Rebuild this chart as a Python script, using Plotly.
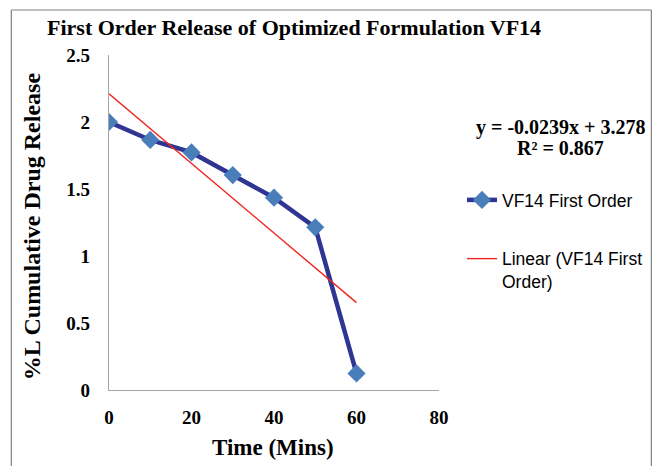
import numpy as np
import plotly.graph_objects as go

# data
time_min = [0, 10, 20, 30, 40, 50, 60]
log_release = [2.0, 1.866, 1.773, 1.604, 1.435, 1.214, 0.124]
x_ticks = [0, 20, 40, 60, 80]
y_ticks = [0, 0.5, 1, 1.5, 2, 2.5]

title_text = "First Order Release of Optimized Formulation VF14"
equation_lines = ["y = -0.0239x + 3.278", "R² = 0.867"]

# least-squares trend line drawn over the data range
slope, intercept = np.polyfit(time_min, log_release, 1)
trend_x = [min(time_min), max(time_min)]
trend_y = [slope * t + intercept for t in trend_x]

W, H = 659, 466
L, R, T, B = 109, 219, 55, 76
pw, ph = W - L - R, H - T - B


def px_x(p):
    return (p - L) / pw


def px_y(p):
    return (H - B - p) / ph


serif = "Liberation Serif"
sans = "Liberation Sans"

fig = go.Figure()
fig.add_trace(go.Scatter(
    x=time_min, y=log_release, mode="lines+markers",
    name="VF14 First Order", legendgroup="a",
    line=dict(color="#2E3592", width=4.5),
    marker=dict(symbol="diamond", size=14, color="#4A7EBB",
                line=dict(color="#4A7EBB", width=0)),
))
fig.add_trace(go.Scatter(
    x=trend_x, y=trend_y, mode="lines",
    name="Linear (VF14 First<br>Order)", legendgroup="b",
    line=dict(color="#F0261E", width=1.4),
))

axis_common = dict(
    showgrid=False, zeroline=False, showline=True,
    linecolor="#A6A6A6", linewidth=1.3, ticks="",
    tickfont=dict(family=serif, size=19, color="black", weight="bold"),
)
fig.update_xaxes(range=[0, 80], tickvals=x_ticks, ticklabelstandoff=10, **axis_common)
fig.update_yaxes(range=[0, 2.5], tickvals=y_ticks, ticklabelstandoff=14, **axis_common)

fig.add_annotation(text=title_text, xref="paper", yref="paper",
                   x=px_x(45), y=px_y(28), xanchor="left", yanchor="middle",
                   showarrow=False,
                   font=dict(family=serif, size=22, color="black", weight="bold"))
fig.add_annotation(text="Time (Mins)", xref="paper", yref="paper",
                   x=px_x(273), y=px_y(447), xanchor="center", yanchor="middle",
                   showarrow=False,
                   font=dict(family=serif, size=23, color="black", weight="bold"))
fig.add_annotation(text="%L Cumulative Drug Release", xref="paper", yref="paper",
                   x=px_x(32), y=px_y(226), xanchor="center", yanchor="middle",
                   textangle=-90, showarrow=False,
                   font=dict(family=serif, size=24, color="black", weight="bold"))
for line_text, ypos in zip(equation_lines, [127, 148]):
    fig.add_annotation(text=line_text, xref="paper", yref="paper",
                       x=px_x(562), y=px_y(ypos), xanchor="center", yanchor="middle",
                       showarrow=False,
                       font=dict(family=serif, size=20, color="black", weight="bold"))

# outer chart frame (open at the bottom, as in the cropped original)
frame = dict(color="#7F7F7F", width=1.2)
fig.add_shape(type="line", xref="paper", yref="paper", layer="above",
              x0=px_x(11), x1=px_x(653), y0=px_y(10), y1=px_y(10), line=frame)
fig.add_shape(type="line", xref="paper", yref="paper", layer="above",
              x0=px_x(11), x1=px_x(11), y0=px_y(10), y1=px_y(466), line=frame)
fig.add_shape(type="line", xref="paper", yref="paper", layer="above",
              x0=px_x(653), x1=px_x(653), y0=px_y(10), y1=px_y(466), line=frame)

fig.update_layout(
    width=W, height=H,
    margin=dict(l=L, r=R, t=T, b=B),
    paper_bgcolor="white", plot_bgcolor="white",
    showlegend=True,
    legend=dict(x=px_x(462), y=px_y(182), xanchor="left", yanchor="top",
                valign="top", tracegroupgap=33, bgcolor="rgba(0,0,0,0)",
                font=dict(family=sans, size=17.5, color="black")),
)

fig.write_html("out.html", config={"displayModeBar": False},
               post_script="document.body.style.margin='0';")
